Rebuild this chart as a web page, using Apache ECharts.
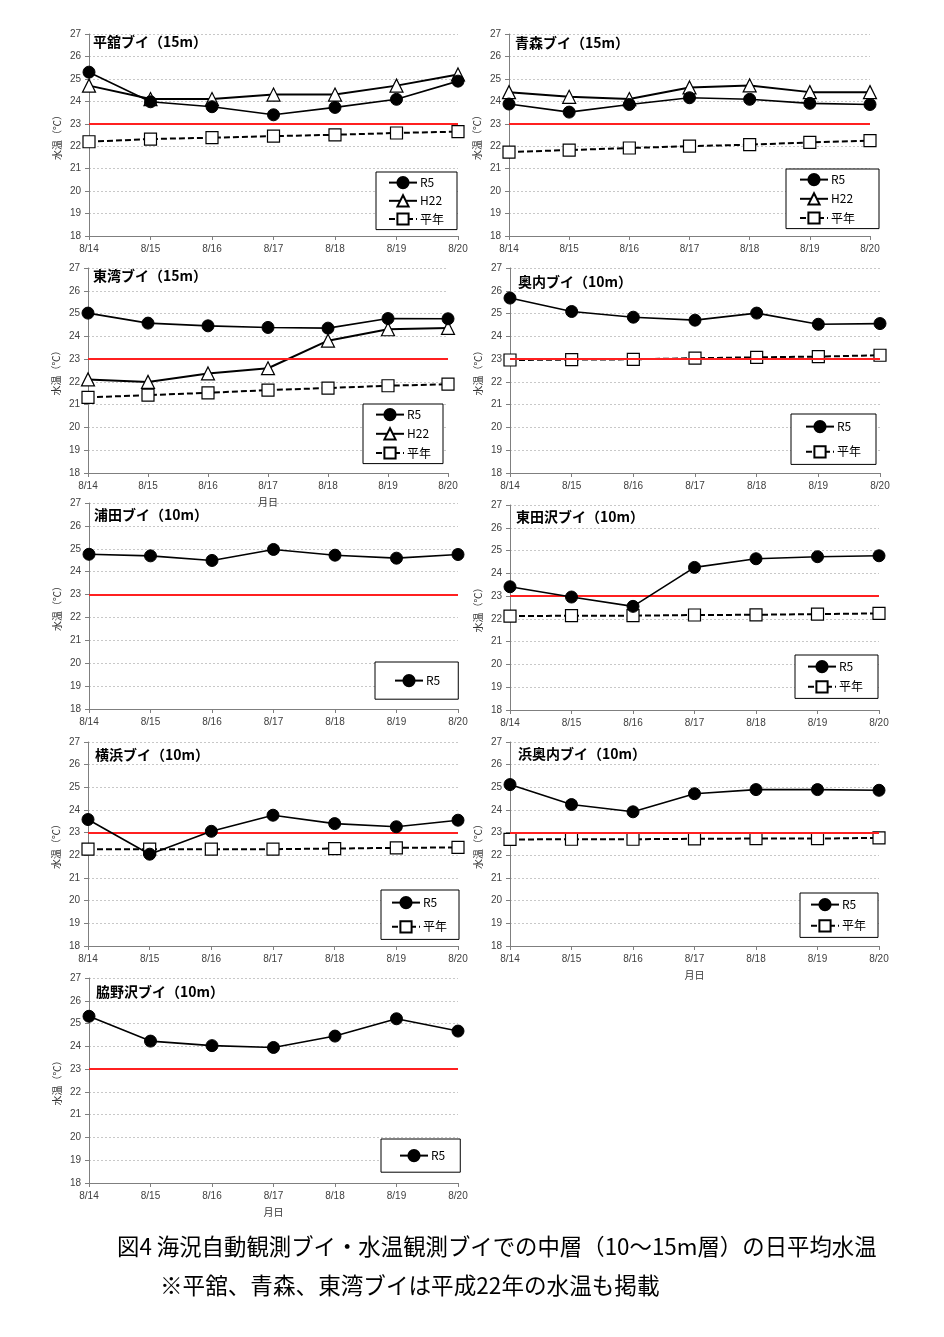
<!DOCTYPE html>
<html><head><meta charset="utf-8">
<script src="https://cdn.jsdelivr.net/npm/echarts@6/dist/echarts.min.js"></script>
<style>html,body{margin:0;padding:0;background:#fff}#c{width:944px;height:1337px}</style>
</head><body><div id="c"></div>
<script>
// ---- data ----
const dates = ['8/14','8/15','8/16','8/17','8/18','8/19','8/20'];
const yMin = 18, yMax = 27, yStep = 1;
const threshold = 23;

const tairadateR5     = [25.3, 23.98, 23.76, 23.4, 23.73, 24.09, 24.9];
const tairadateH22    = [24.7, 24.1, 24.1, 24.3, 24.3, 24.7, 25.2];
const tairadateNormal = [22.2, 22.32, 22.38, 22.45, 22.51, 22.59, 22.65];

const aomoriR5     = [23.88, 23.52, 23.86, 24.16, 24.09, 23.91, 23.86];
const aomoriH22    = [24.41, 24.2, 24.1, 24.62, 24.71, 24.41, 24.41];
const aomoriNormal = [21.74, 21.83, 21.92, 22.0, 22.07, 22.17, 22.25];

const towanR5     = [25.02, 24.58, 24.46, 24.39, 24.36, 24.78, 24.77];
const towanH22    = [22.11, 22.0, 22.37, 22.6, 23.81, 24.31, 24.37];
const towanNormal = [21.32, 21.42, 21.52, 21.64, 21.73, 21.83, 21.9];

const okunaiR5     = [25.68, 25.09, 24.84, 24.71, 25.02, 24.53, 24.56];
const okunaiNormal = [22.96, 22.98, 22.99, 23.04, 23.08, 23.11, 23.17];

const urataR5 = [24.76, 24.69, 24.49, 24.97, 24.72, 24.59, 24.75];

const higashitazawaR5     = [23.41, 22.96, 22.55, 24.26, 24.64, 24.73, 24.77];
const higashitazawaNormal = [22.12, 22.14, 22.14, 22.17, 22.18, 22.21, 22.24];

const yokohamaR5     = [23.58, 22.05, 23.06, 23.77, 23.4, 23.26, 23.55];
const yokohamaNormal = [22.27, 22.27, 22.27, 22.27, 22.3, 22.33, 22.35];

const hamaokunaiR5     = [25.12, 24.24, 23.92, 24.72, 24.9, 24.9, 24.87];
const hamaokunaiNormal = [22.7, 22.71, 22.71, 22.73, 22.74, 22.74, 22.77];

const wakinosawaR5 = [25.32, 24.23, 24.03, 23.95, 24.45, 25.21, 24.67];

// ---- layout ----
const panels = [
  {title:'平舘ブイ（15m）', g:[89,34,369,202], t:[93,35], s:[['R5',tairadateR5],['H22',tairadateH22],['平年',tairadateNormal]], lg:[376,172], lp:[4,13,4,12], gap:5, xn:false},
  {title:'青森ブイ（15m）', g:[509,34,361,202], t:[515,36], s:[['R5',aomoriR5],['H22',aomoriH22],['平年',aomoriNormal]], lg:[786,169], lp:[4,24,4,13], gap:6, xn:false},
  {title:'東湾ブイ（15m）', g:[88,268,360,205], t:[93,269], s:[['R5',towanR5],['H22',towanH22],['平年',towanNormal]], lg:[363,404], lp:[4,12,4,12], gap:6, xn:true},
  {title:'奥内ブイ（10m）', g:[510,268,370,205], t:[518,275], s:[['R5',okunaiR5],['平年',okunaiNormal]], lg:[791,414], lp:[6,15,6,14], gap:12, xn:false},
  {title:'浦田ブイ（10m）', g:[89,503,369,206], t:[94,508], s:[['R5',urataR5]], lg:[375,662], lp:[12,18,12,19], gap:8, xn:false},
  {title:'東田沢ブイ（10m）', g:[510,505,369,205], t:[516,510], s:[['R5',higashitazawaR5],['平年',higashitazawaNormal]], lg:[795,655], lp:[5,15,5,12], gap:7, xn:false},
  {title:'横浜ブイ（10m）', g:[88,742,370,204], t:[95,748], s:[['R5',yokohamaR5],['平年',yokohamaNormal]], lg:[381,890], lp:[6,12,6,10], gap:11, xn:false},
  {title:'浜奥内ブイ（10m）', g:[510,742,369,204], t:[518,747], s:[['R5',hamaokunaiR5],['平年',hamaokunaiNormal]], lg:[800,893], lp:[5,12,5,10], gap:8, xn:true},
  {title:'脇野沢ブイ（10m）', g:[89,978,369,205], t:[96,985], s:[['R5',wakinosawaR5]], lg:[381,1139], lp:[10,15,10,18], gap:8, xn:true}
];

const styles = {
  'R5':  {symbol:'circle', symbolSize:12, itemStyle:{color:'#000', borderColor:'#000', borderWidth:1}, lineStyle:{color:'#000', width:1.6, type:'solid'}},
  'H22': {symbol:'triangle', symbolSize:13, itemStyle:{color:'#fff', borderColor:'#000', borderWidth:1.2}, lineStyle:{color:'#000', width:2, type:'solid'}},
  '平年': {symbol:'rect', symbolSize:12, itemStyle:{color:'#fff', borderColor:'#000', borderWidth:1.2}, lineStyle:{color:'#000', width:2, type:[6,3]}}
};

const grid=[], xAxis=[], yAxis=[], series=[], legend=[], title=[];
panels.forEach((p,i)=>{
  grid.push({left:p.g[0], top:p.g[1], width:p.g[2], height:p.g[3], containLabel:false});
  xAxis.push({type:'category', gridIndex:i, data:dates, boundaryGap:false,
    axisLine:{lineStyle:{color:'#7f7f7f', width:1}},
    axisTick:{show:true, length:4, lineStyle:{color:'#7f7f7f'}},
    axisLabel:{color:'#404040', fontSize:10, fontFamily:'Liberation Sans', margin:8},
    splitLine:{show:false},
    name: p.xn ? '月日' : '', nameLocation:'middle', nameGap:24,
    nameTextStyle:{color:'#333', fontSize:10, fontFamily:'Noto Sans CJK JP'}
  });
  yAxis.push({type:'value', gridIndex:i, min:yMin, max:yMax, interval:yStep,
    axisLine:{show:true, lineStyle:{color:'#7f7f7f', width:1}},
    axisTick:{show:true, length:4, lineStyle:{color:'#7f7f7f'}},
    axisLabel:{color:'#404040', fontSize:10, fontFamily:'Liberation Sans', margin:8},
    splitLine:{show:true, lineStyle:{color:'#c8c8c8', type:[2,2], width:1}},
    name:'水温（℃）', nameLocation:'middle', nameRotate:90, nameGap:27,
    nameTextStyle:{color:'#333', fontSize:10, fontFamily:'Noto Sans CJK JP'}
  });
  p.s.forEach(([name,data],k)=>{
    const st = styles[name];
    const s = {type:'line', name:name, xAxisIndex:i, yAxisIndex:i, data:data,
      symbol:st.symbol, symbolSize:st.symbolSize, showAllSymbol:true,
      itemStyle:st.itemStyle, lineStyle:st.lineStyle, z: 3 + (2-k), animation:false};
    if (k===0) {
      s.markLine = {silent:true, symbol:'none', label:{show:false}, animation:false,
        lineStyle:{color:'#ff2020', width:2, type:'solid'}, data:[{yAxis:threshold}]};
    }
    series.push(s);
  });
  legend.push({orient:'vertical', left:p.lg[0], top:p.lg[1], data:p.s.map(a=>a[0]),
    itemWidth:28, itemHeight:14, itemGap:p.gap, padding:p.lp,
    borderColor:'#000', borderWidth:1, backgroundColor:'#fff',
    selectedMode:false,
    textStyle:{color:'#000', fontSize:12, fontFamily:'Noto Sans CJK JP', padding:[0,0,0,-2]}});
  title.push({text:p.title, left:p.t[0], top:p.t[1], padding:0,
    textStyle:{fontSize:14, fontWeight:'bold', color:'#000', fontFamily:'Noto Sans CJK JP'}});
});

const chart = echarts.init(document.getElementById('c'), null, {renderer:'canvas'});
chart.setOption({
  animation:false,
  backgroundColor:'#fff',
  title, grid, xAxis, yAxis, series, legend,
  graphic:[
    {type:'text', left:117, top:1235, style:{text:'図4 海況自動観測ブイ・水温観測ブイでの中層（10～15m層）の日平均水温', fontSize:22.4, fill:'#000', fontFamily:'Noto Sans CJK JP'}},
    {type:'text', left:160, top:1274, style:{text:'※平舘、青森、東湾ブイは平成22年の水温も掲載', fontSize:22.6, fill:'#000', fontFamily:'Noto Sans CJK JP'}}
  ]
});
</script></body></html>
